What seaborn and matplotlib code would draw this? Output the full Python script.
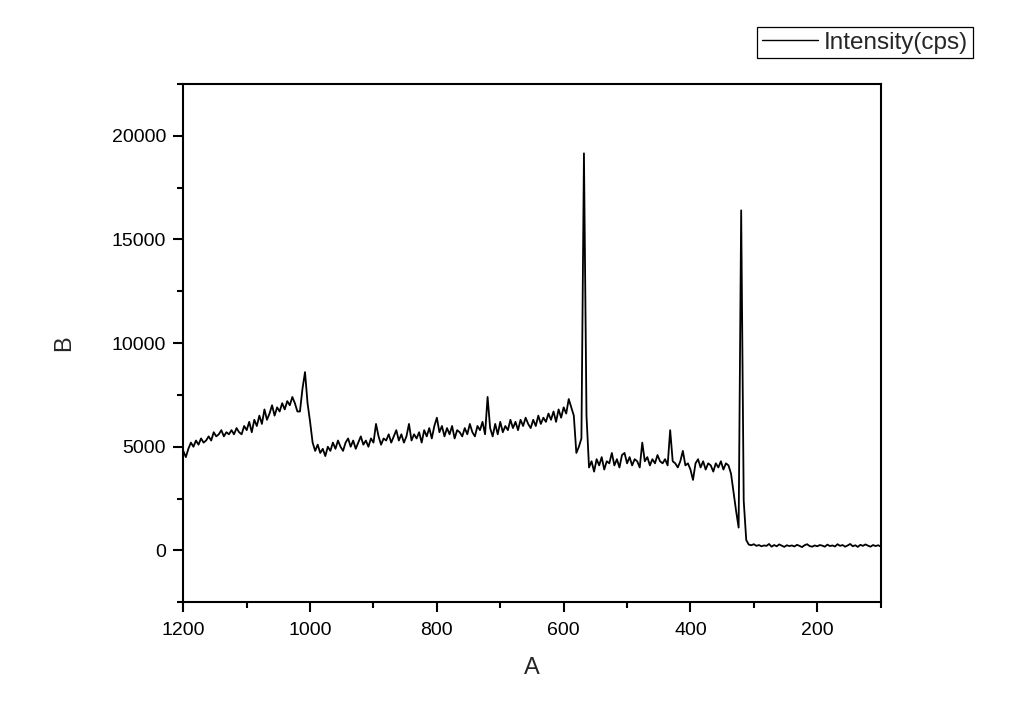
import numpy as np
import pandas as pd
import matplotlib
matplotlib.use("Agg")
import matplotlib.pyplot as plt
import matplotlib.ticker as mticker
import seaborn as sns

# -------------------------------------------------------
# Data (4 eV grid, 1200 -> 100)
# -------------------------------------------------------
energy = np.arange(1200, 99, -4)

intensity = [
    4800, 4500, 4900, 5200, 5000, 5300, 5100, 5400, 5200, 5300,   # 1200-1164
    5500, 5300, 5700, 5500, 5600, 5800, 5500, 5700, 5600, 5800,   # 1160-1124
    5600, 5900, 5700, 5600, 6000, 5800, 6200, 5700, 6300, 6000,   # 1120-1084
    6500, 6100, 6800, 6300, 6600, 7000, 6500, 6900, 6700, 7100,   # 1080-1044
    6800, 7200, 7000, 7400, 7100, 6700, 6700, 7800, 8600, 7100,   # 1040-1004
    6200, 5200, 4800, 5100, 4700, 4900, 4550, 5000, 4800, 5200,   # 1000-964
    4900, 5300, 5000, 4800, 5200, 5400, 5000, 5300, 4900, 5200,   # 960-924
    5500, 5100, 5300, 5000, 5400, 5200, 6100, 5500, 5100, 5400,   # 920-884
    5300, 5600, 5200, 5500, 5800, 5300, 5600, 5200, 5500, 6100,   # 880-844
    5300, 5600, 5400, 5700, 5200, 5800, 5500, 5900, 5400, 6000,   # 840-804
    6400, 5700, 6000, 5500, 5900, 5600, 6000, 5400, 5800, 5700,   # 800-764
    5500, 5900, 5600, 6100, 5700, 5500, 6000, 5800, 6200, 5600,   # 760-724
    7400, 5900, 5500, 6100, 5600, 6200, 5700, 6000, 5800, 6300,   # 720-684
    5900, 6200, 5800, 6300, 6000, 6400, 6100, 5900, 6300, 6000,   # 680-644
    6500, 6100, 6400, 6200, 6600, 6300, 6700, 6200, 6800, 6400,   # 640-604
    6900, 6600, 7300, 6900, 6500, 4700, 5000, 5400, 19150, 6500,  # 600-564
    4000, 4300, 3800, 4400, 4100, 4500, 3900, 4300, 4200, 4700,   # 560-524
    4100, 4400, 4000, 4600, 4700, 4200, 4500, 4100, 4400, 4300,   # 520-484
    4000, 5200, 4300, 4500, 4100, 4400, 4200, 4600, 4300, 4200,   # 480-444
    4400, 4100, 5800, 4300, 4200, 4000, 4300, 4800, 4100, 4200,   # 440-404
    3900, 3400, 4200, 4400, 4000, 4300, 3900, 4200, 4100, 3800,   # 400-364
    4200, 4000, 4300, 3900, 4200, 4100, 3700, 2800, 1900, 1100,   # 360-324
    16400, 2400, 500, 280, 250, 300, 220, 260, 200, 240,          # 320-284
    220, 310, 180, 260, 200, 290, 230, 170, 250, 210,             # 280-244
    240, 190, 270, 220, 160, 250, 300, 210, 180, 240,             # 240-204
    200, 260, 230, 180, 280, 210, 240, 190, 300, 220,             # 200-164
    260, 180, 240, 310, 200, 250, 170, 270, 220, 290,             # 160-124
    230, 180, 260, 210, 250, 190,                                 # 120-100
]

series_name = "Intensity(cps)"

df = pd.DataFrame({"A": energy, series_name: intensity})

# -------------------------------------------------------
# Style
# -------------------------------------------------------
sns.set_theme(style="ticks")
plt.rcParams.update({
    "font.family": ["Liberation Sans", "DejaVu Sans"],
    "axes.linewidth": 1.5,
    "xtick.direction": "out",
    "ytick.direction": "out",
    "xtick.major.size": 7.5,
    "ytick.major.size": 7.5,
    "xtick.minor.size": 4,
    "ytick.minor.size": 4,
    "xtick.major.width": 1.5,
    "ytick.major.width": 1.5,
    "xtick.minor.width": 1.5,
    "ytick.minor.width": 1.5,
    "xtick.color": "black",
    "ytick.color": "black",
    "axes.edgecolor": "black",
})

fig = plt.figure(figsize=(10.24, 7.23), dpi=100)
ax = fig.add_axes([0.179, 0.167, 0.681, 0.717])

sns.lineplot(data=df, x="A", y=series_name, ax=ax, color="black",
             linewidth=1.3, sort=False, estimator=None, label=series_name)

ax.set_xlim(1200, 100)
ax.set_ylim(-2500, 22500)
ax.xaxis.set_major_locator(mticker.MultipleLocator(200))
ax.xaxis.set_minor_locator(mticker.MultipleLocator(100))
ax.yaxis.set_major_locator(mticker.MultipleLocator(5000))
ax.yaxis.set_minor_locator(mticker.MultipleLocator(2500))
ax.tick_params(axis="y", which="major", labelsize=14, pad=5)
ax.tick_params(axis="x", which="major", labelsize=14, pad=7)
ax.tick_params(top=False, right=False, which="both")

ax.set_xlabel("A", fontsize=17, labelpad=13)
ax.set_ylabel("B", fontsize=17, labelpad=26)

ax.get_legend().remove()
handles, labels = ax.get_legend_handles_labels()
leg = fig.legend(handles, labels, loc="upper right",
                 bbox_to_anchor=(0.950, 0.963), fontsize=17.5,
                 frameon=True, fancybox=False, shadow=False,
                 handlelength=2.3, handletextpad=0.25,
                 borderpad=0.2, borderaxespad=0)
leg.get_frame().set_edgecolor("black")
leg.get_frame().set_linewidth(0.9)
leg.get_frame().set_alpha(1)
for line in leg.get_lines():
    line.set_linewidth(1.0)

fig.savefig("out.png", dpi=100, facecolor="white")
plt.close()
